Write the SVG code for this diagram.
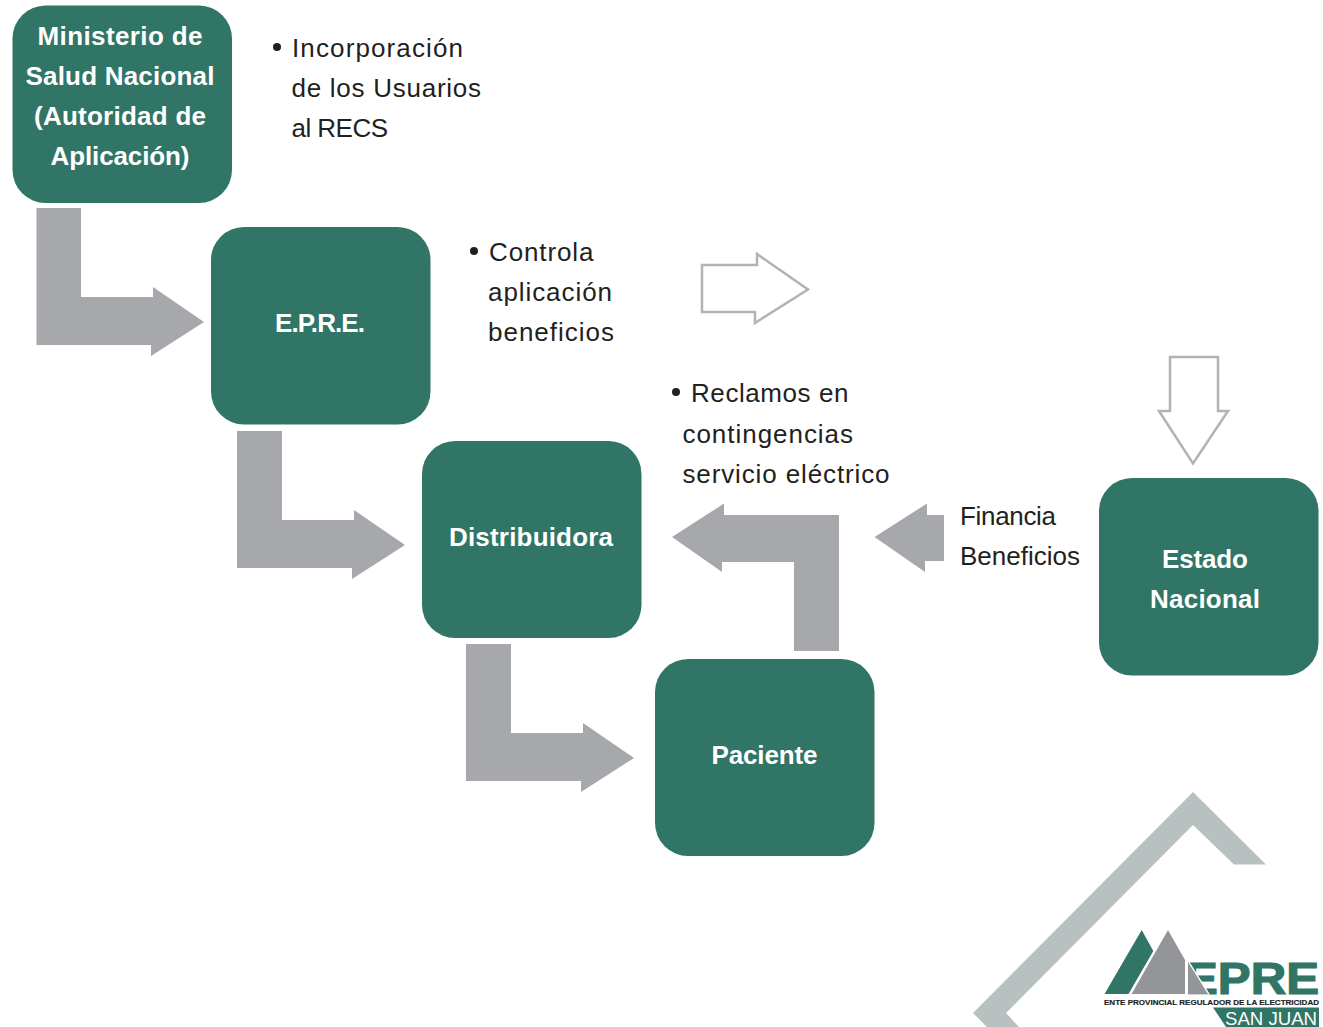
<svg xmlns="http://www.w3.org/2000/svg" width="1323" height="1027" viewBox="0 0 1323 1027">
<style>
.n{fill:#317566}
.a{fill:#a7a8ab}
.o{fill:#fff;stroke:#b1b3b5;stroke-width:2.500}
.g{fill:#939598}
text{font-family:"Liberation Sans",Arial,sans-serif}
.t{font-size:26px;font-weight:700;fill:#fff;text-anchor:middle}
.b{font-size:26px;fill:#231f20}
.d{fill:#231f20}
</style>
<rect width="1323" height="1027" fill="#fff"/>
<g id="watermark">
<polygon points="1193,792 1266,864.500 1234,864.500 1193,825 1006,1013 1019,1027 987,1027 973,1013" fill="#b9c1c0"/>
</g>
<g id="connectors">
<polygon class="a" points="36.500,208 81,208 81,297 153,297 153,287 204,322 151,356 151,345 36.500,345"/>
<polygon class="a" points="237,431 282,431 282,520 354,520 354,510 405,545 352,579 352,568 237,568"/>
<polygon class="a" points="466,644 511,644 511,733 583,733 583,723 634,758 581,792 581,781 466,781"/>
<polygon class="a" points="672,537 724,503.500 724,515 839,515 839,651 794,651 794,562 722,562 722,572"/>
<polygon class="a" points="874.500,537 927,503.500 927,515 944,515 944,561 925,561 925,572"/>
<polygon class="o" points="702,265 757,265 757,254 808,289.500 755,323 755,312 702,312"/>
<polygon class="o" points="1170,357 1218,357 1218,411 1228,411 1193,463.500 1159,411 1170,411"/>
</g>
<g id="ministerio">
<rect class="n" x="12.500" y="5.500" width="219.500" height="197.500" rx="33"/>
<text class="t" x="120" y="45" textLength="165">Ministerio de</text>
<text class="t" x="120" y="85" textLength="189">Salud Nacional</text>
<text class="t" x="120" y="125" textLength="172">(Autoridad de</text>
<text class="t" x="120" y="165" textLength="139">Aplicación)</text>
</g>
<g id="epre">
<rect class="n" x="211" y="227" width="219.500" height="197.500" rx="33"/>
<text class="t" x="320" y="332" textLength="90">E.P.R.E.</text>
</g>
<g id="distribuidora">
<rect class="n" x="422" y="441" width="219.500" height="197" rx="33"/>
<text class="t" x="531" y="546" textLength="164">Distribuidora</text>
</g>
<g id="paciente">
<rect class="n" x="655" y="659" width="219.500" height="197" rx="33"/>
<text class="t" x="764.500" y="764" textLength="106">Paciente</text>
</g>
<g id="estado">
<rect class="n" x="1099" y="478" width="219.500" height="197.500" rx="33"/>
<text class="t" x="1205" y="568" textLength="86">Estado</text>
<text class="t" x="1205" y="608" textLength="110">Nacional</text>
</g>
<g id="labels">
<circle class="d" cx="277" cy="47" r="4"/>
<text class="b" x="292" y="57" textLength="171">Incorporación</text>
<text class="b" x="291.500" y="97" textLength="189.500">de los Usuarios</text>
<text class="b" x="291.500" y="137" textLength="96.500">al RECS</text>
<circle class="d" cx="474" cy="251" r="4"/>
<text class="b" x="489" y="261" textLength="104.500">Controla</text>
<text class="b" x="488" y="301" textLength="124">aplicación</text>
<text class="b" x="488" y="341" textLength="126">beneficios</text>
<circle class="d" cx="676" cy="392" r="4"/>
<text class="b" x="691" y="402" textLength="157.500">Reclamos en</text>
<text class="b" x="682.500" y="443" textLength="170.500">contingencias</text>
<text class="b" x="682.500" y="483" textLength="207">servicio eléctrico</text>
<text class="b" x="960" y="525" textLength="96">Financia</text>
<text class="b" x="960" y="565" textLength="120">Beneficios</text>
</g>
<g id="logo">
<polygon class="n" points="1104.500,994 1141.700,930 1153.300,951 1128.500,994"/>
<text x="1185" y="993.500" font-size="44" font-weight="700" fill="#317566" stroke="#317566" stroke-width="1.200" textLength="134" lengthAdjust="spacingAndGlyphs">EPRE</text>
<polygon points="1183,958 1187,958 1210,994.500 1183,994.500" fill="#fff"/>
<polygon class="g" points="1131.500,994 1168,930 1185,960 1185,994"/>
<polygon class="g" points="1188,962 1208,994 1188,994"/>
<text x="1104" y="1005" font-size="8" font-weight="700" fill="#231f20" stroke="#231f20" stroke-width="0.200" textLength="215" lengthAdjust="spacingAndGlyphs">ENTE PROVINCIAL REGULADOR DE LA ELECTRICIDAD</text>
<polygon class="n" points="1213,1007.500 1319,1007.500 1319,1027 1226,1027"/>
<text x="1225" y="1025" font-size="18.500" fill="#fff" textLength="92" lengthAdjust="spacingAndGlyphs">SAN JUAN</text>
</g>
</svg>
